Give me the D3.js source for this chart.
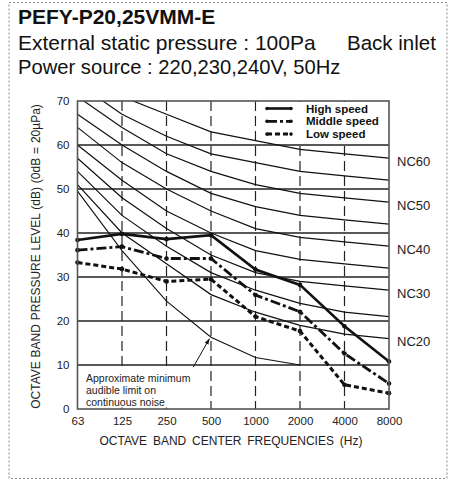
<!DOCTYPE html>
<html>
<head>
<meta charset="utf-8">
<script src="https://cdn.jsdelivr.net/npm/d3@7"></script>
<style>
  body { margin: 0; background: #fff; }
  svg { display: block; font-family: "Liberation Sans", Arial, Helvetica, sans-serif; }
</style>
</head>
<body>
<svg id="chart" width="456" height="479"></svg>
<script>
// octave band centre frequencies
var freqs = ["63", "125", "250", "500", "1000", "2000", "4000", "8000"];
var yTicks = [0, 10, 20, 30, 40, 50, 60, 70];

// NC reference curves (dB)
var ncNames = ["NC20", "NC25", "NC30", "NC35", "NC40", "NC45", "NC50", "NC55", "NC60"];
var nc20 = [51, 40, 33, 26, 22, 19, 17, 16];
var nc25 = [54, 44, 37, 31, 27, 24, 22, 21];
var nc30 = [57, 48, 41, 35, 31, 29, 28, 27];
var nc35 = [60, 52, 45, 40, 36, 34, 33, 32];
var nc40 = [64, 56, 50, 45, 41, 39, 38, 37];
var nc45 = [67, 60, 54, 49, 46, 44, 43, 42];
var nc50 = [71, 64, 58, 54, 51, 49, 48, 47];
var nc55 = [74, 67, 62, 58, 56, 54, 53, 52];
var nc60 = [77, 71, 67, 63, 61, 59, 58, 57];
var ncLabelled = ["NC20", "NC30", "NC40", "NC50", "NC60"];

// approximate minimum audible limit (63 .. 2000 Hz)
var audible = [49.5, 36, 24.5, 16.3, 11.7, 10];

// measured sound levels
var seriesNames = ["High speed", "Middle speed", "Low speed"];
var highSpeed = [38.4, 39.8, 38.6, 39.5, 31.7, 28.2, 18.8, 10.8];
var middleSpeed = [36.1, 36.9, 34.2, 34.2, 25.9, 22.1, 12.6, 5.8];
var lowSpeed = [33.3, 31.8, 29.0, 29.5, 21.0, 17.7, 5.5, 3.6];

var ncCurves = [nc20, nc25, nc30, nc35, nc40, nc45, nc50, nc55, nc60];
var speedData = [highSpeed, middleSpeed, lowSpeed];
var speedDash = [null, "10,3,3,3", "5,3"];
var speedWidth = [2.6, 2.8, 3];

var svg = d3.select("#chart");

// outer dotted frame
svg.append("rect")
  .attr("x", 9).attr("y", 2.5)
  .attr("width", 438).attr("height", 476)
  .attr("fill", "none")
  .attr("stroke", "#8a8a8a")
  .attr("stroke-width", 1)
  .attr("stroke-dasharray", "2,2");

// header text
svg.append("text").attr("x", 18).attr("y", 23.5)
  .attr("font-size", 21).attr("font-weight", "bold").attr("fill", "#111")
  .text("PEFY-P20,25VMM-E");
svg.append("text").attr("x", 18).attr("y", 49.5)
  .attr("font-size", 21).attr("fill", "#111")
  .text("External static pressure : 100Pa");
svg.append("text").attr("x", 347).attr("y", 49.5)
  .attr("font-size", 20.5).attr("fill", "#111")
  .text("Back inlet");
svg.append("text").attr("x", 18).attr("y", 73.5)
  .attr("font-size", 20.2).attr("fill", "#111")
  .text("Power source : 220,230,240V, 50Hz");

// scales
var x = d3.scalePoint().domain(freqs).range([77.5, 389]);
var y = d3.scaleLinear().domain([0, 70]).range([409, 101]);

var plot = svg.append("g");

svg.append("defs").append("clipPath").attr("id", "plotclip")
  .append("rect")
  .attr("x", x("63")).attr("y", y(70))
  .attr("width", x("8000") - x("63")).attr("height", y(0) - y(70));

// horizontal grid
plot.selectAll("line.hgrid")
  .data(yTicks.filter(function(d) { return d > 0 && d < 70; }))
  .enter().append("line")
  .attr("class", "hgrid")
  .attr("x1", x("63")).attr("x2", x("8000"))
  .attr("y1", function(d) { return y(d); })
  .attr("y2", function(d) { return y(d); })
  .attr("stroke", "#222").attr("stroke-width", 1.4);

// vertical dashed grid
plot.selectAll("line.vgrid")
  .data(freqs.slice(1, 7))
  .enter().append("line")
  .attr("class", "vgrid")
  .attr("x1", function(d) { return x(d); })
  .attr("x2", function(d) { return x(d); })
  .attr("y1", y(70)).attr("y2", y(0))
  .attr("stroke", "#222").attr("stroke-width", 1.2)
  .attr("stroke-dasharray", "10,5");

// white boxes behind legend and note
plot.append("rect")
  .attr("x", x("1000") + 1).attr("y", y(70) + 1)
  .attr("width", x("8000") - x("1000") - 2).attr("height", y(60) - y(70) - 2)
  .attr("fill", "#fff");
plot.append("rect")
  .attr("x", x("63") + 1).attr("y", y(10) + 1.5)
  .attr("width", x("500") - x("63") - 8).attr("height", y(0) - y(10) - 3)
  .attr("fill", "#fff");

var line = d3.line()
  .x(function(d, i) { return x(freqs[i]); })
  .y(function(d) { return y(d); });

// NC curves
var curves = plot.append("g").attr("clip-path", "url(#plotclip)");
curves.selectAll("path.nc")
  .data(ncCurves)
  .enter().append("path")
  .attr("class", "nc")
  .attr("d", line)
  .attr("fill", "none")
  .attr("stroke", "#111")
  .attr("stroke-width", 1.2);

curves.append("path")
  .attr("d", line(audible))
  .attr("fill", "none")
  .attr("stroke", "#111")
  .attr("stroke-width", 1.1);

// NC labels
plot.selectAll("text.nclabel")
  .data(ncLabelled)
  .enter().append("text")
  .attr("class", "nclabel")
  .attr("x", x("8000") + 8)
  .attr("y", function(d) { var c = ncCurves[ncNames.indexOf(d)]; return y(c[c.length - 1]) + 3; })
  .attr("dy", "0.35em")
  .attr("font-size", 13).attr("fill", "#222")
  .text(function(d) { return d; });

// note text + arrow
var note = ["Approximate minimum", "audible limit on", "continuous noise"];
plot.selectAll("text.note")
  .data(note)
  .enter().append("text")
  .attr("class", "note")
  .attr("x", 86)
  .attr("y", function(d, i) { return 381.5 + i * 12.3; })
  .attr("font-size", 10.5).attr("fill", "#222")
  .text(function(d) { return d; });

svg.select("defs").append("marker")
  .attr("id", "arrow").attr("viewBox", "0 0 10 10")
  .attr("refX", 10).attr("refY", 5)
  .attr("markerWidth", 6).attr("markerHeight", 6)
  .attr("orient", "auto")
  .append("path").attr("d", "M0,1.5L10,5L0,8.5Z").attr("fill", "#111");

plot.append("line")
  .attr("x1", x("250") + (x("500") - x("250")) * 0.6).attr("y1", y(9.5))
  .attr("x2", x("500") - 1.5).attr("y2", y(16))
  .attr("stroke", "#111").attr("stroke-width", 1)
  .attr("marker-end", "url(#arrow)");

// speed series
var series = plot.selectAll("g.series")
  .data(speedData)
  .enter().append("g")
  .attr("class", "series");

series.append("path")
  .attr("d", line)
  .attr("fill", "none")
  .attr("stroke", "#111")
  .attr("stroke-width", function(d, i) { return speedWidth[i]; })
  .attr("stroke-dasharray", function(d, i) { return speedDash[i]; });

series.selectAll("circle")
  .data(function(d) { return d; })
  .enter().append("circle")
  .attr("cx", function(d, i) { return x(freqs[i]); })
  .attr("cy", function(d) { return y(d); })
  .attr("r", 2.3)
  .attr("fill", "#111");

// legend
var legend = plot.append("g");
var legendRows = legend.selectAll("g")
  .data(seriesNames)
  .enter().append("g")
  .attr("transform", function(d, i) { return "translate(0," + (108.5 + i * 12.8) + ")"; });

legendRows.append("line")
  .attr("x1", 267).attr("x2", 291)
  .attr("stroke", "#111")
  .attr("stroke-width", function(d, i) { return speedWidth[i]; })
  .attr("stroke-dasharray", function(d, i) { return speedDash[i]; });
legendRows.append("circle").attr("cx", 267).attr("r", 1.8).attr("fill", "#111");
legendRows.append("circle").attr("cx", 291).attr("r", 1.8).attr("fill", "#111");
legendRows.append("text")
  .attr("x", 306).attr("dy", "0.36em")
  .attr("font-size", 11.5).attr("font-weight", "bold").attr("fill", "#111")
  .text(function(d) { return d; });

// plot frame
plot.append("rect")
  .attr("x", x("63")).attr("y", y(70))
  .attr("width", x("8000") - x("63")).attr("height", y(0) - y(70))
  .attr("fill", "none")
  .attr("stroke", "#555").attr("stroke-width", 1.6);

// axes
var xAxis = svg.append("g")
  .attr("transform", "translate(0," + y(0) + ")")
  .call(d3.axisBottom(x).tickSize(0).tickPadding(8));
var yAxis = svg.append("g")
  .attr("transform", "translate(" + x("63") + ",0)")
  .call(d3.axisLeft(y).tickValues(yTicks).tickSize(0).tickPadding(8));

[xAxis, yAxis].forEach(function(a) {
  a.select(".domain").remove();
  a.selectAll("text")
    .attr("font-family", "Liberation Sans, Arial, sans-serif")
    .attr("font-size", 11.5)
    .attr("fill", "#222");
});

// axis titles
svg.append("text")
  .attr("x", 231).attr("y", 445)
  .attr("text-anchor", "middle")
  .attr("font-size", 12).attr("fill", "#222")
  .attr("word-spacing", 2.5)
  .text("OCTAVE  BAND  CENTER  FREQUENCIES (Hz)");

svg.append("text")
  .attr("transform", "translate(39.5,256.5)rotate(-90)")
  .attr("text-anchor", "middle")
  .attr("font-size", 12).attr("fill", "#222")
  .attr("word-spacing", 0.5)
  .text("OCTAVE  BAND  PRESSURE  LEVEL (dB) (0dB = 20µPa)");
</script>
</body>
</html>
